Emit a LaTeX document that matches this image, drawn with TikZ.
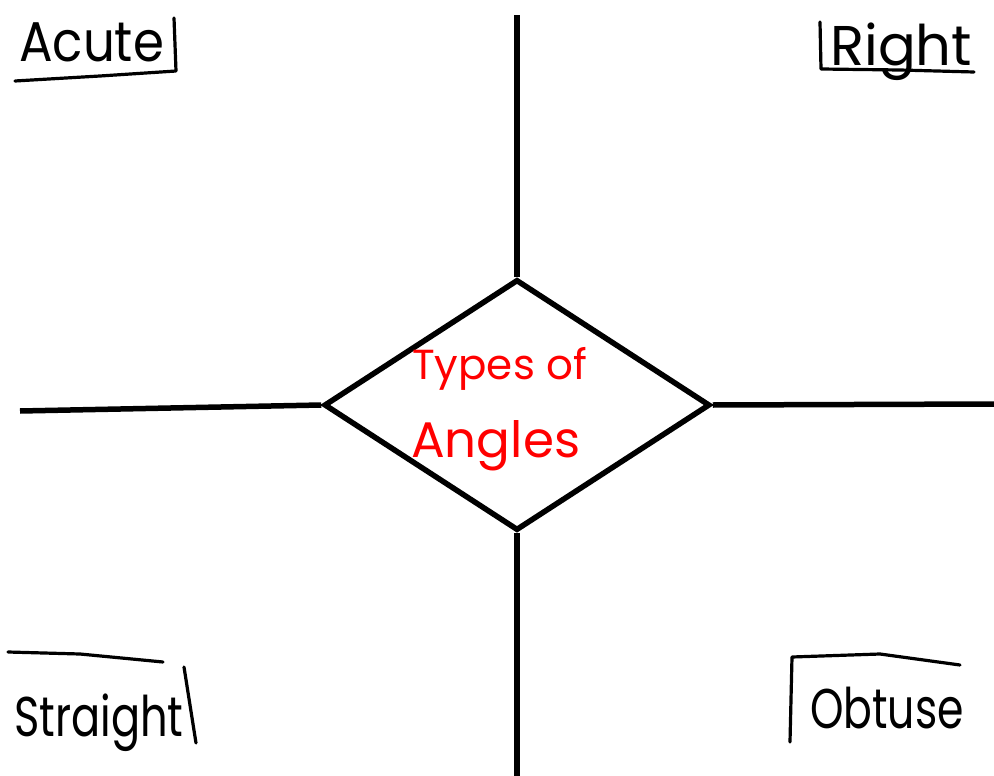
\documentclass[tikz,border=0pt]{standalone}
\usepackage{fontspec}
\usepackage{graphicx}
\setmainfont{Poppins}
\usetikzlibrary{shapes.geometric}
\newcommand{\handtext}[3]{\scalebox{#2}[1]{\fontsize{#1}{#1}\selectfont #3}}
\begin{document}
\begin{tikzpicture}[x=1pt,y=-1pt,
  spoke/.style={line width=5.5pt,black},
  pen/.style={line width=3.2pt,black,line cap=round,line join=round},
  hand/.style={inner sep=0pt,anchor=base west},
  centre/.style={text=red,inner sep=0pt,anchor=base west}]
  \useasboundingbox[fill=white] (0,0) rectangle (994,776);

  % central diamond
  \node[diamond,draw,line width=5.5pt,minimum width=386pt,minimum height=251pt,inner sep=0pt] (hub) at (517,405) {};
  \node[centre] (t1) at (412,379) {\handtext{42}{1}{Types of}};
  \node[centre] (t2) at (411,457) {\handtext{50}{1}{Angles}};

  % ends of the four spokes
  \coordinate (ntop) at (517,15);
  \coordinate (sbot) at (517,776);
  \coordinate (wend) at (20,411);
  \coordinate (eend) at (994,404);
  \draw[spoke] (hub.north) -- (ntop);
  \draw[spoke] (hub.south) -- (sbot);
  \draw[spoke] (hub.west) -- (wend);
  \draw[spoke] (hub.east) -- (eend);

  % corner labels with their hand-drawn rules
  \node[hand] (acute) at (19,62) {\handtext{56}{0.89}{Acute}};
  \draw[pen] (15,81) -- (100,76) -- (176,71) -- (174,18);

  \node[hand] (right) at (830,66) {\handtext{56}{1.0}{Right}};
  \draw[pen] (820,22) -- (821,69) -- (900,70) -- (974,72);

  \node[hand] (straight) at (14,736) {\handtext{56}{0.77}{Straight}};
  \draw[pen] (8,652) -- (80,654) -- (163,662);
  \draw[pen] (184,667) -- (196,743);

  \node[hand] (obtuse) at (810,728) {\handtext{56}{0.76}{Obtuse}};
  \draw[pen] (790,742) -- (792,657) -- (880,654) -- (960,665);
\end{tikzpicture}
\end{document}
